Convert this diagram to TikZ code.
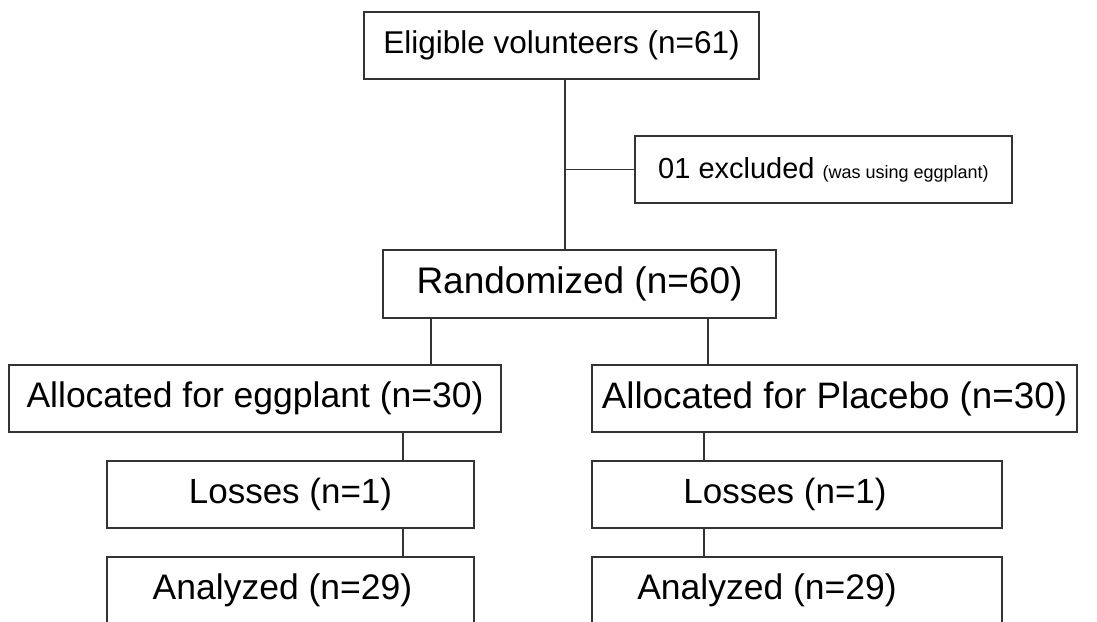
\documentclass[tikz,border=0pt]{standalone}
\usepackage{fontspec}
\setmainfont{Liberation Sans}
\begin{document}
\begin{tikzpicture}[
        x=1pt, y=-1pt,
        box/.style={draw=black!80, line width=1.5pt, inner sep=0pt, minimum height=67pt,
            font=\fontsize{35.5}{40}\selectfont},
        link/.style={draw=black!80, line width=1.5pt}
    ]
    \useasboundingbox (0,0) rectangle (1097,621);
    \clip (0,0) rectangle (1097,621);
    % Nodes
    \node[box, minimum width=395pt, font=\fontsize{31.5}{36}\selectfont] (elig) at (561.5,45.5) {Eligible volunteers (n=61)};
    \node[box, minimum width=377pt] (excl) at (823.5,169.5)
        {\fontsize{29}{34}\selectfont 01 excluded \fontsize{18}{22}\selectfont(was using eggplant)};
    \node[box, minimum width=393pt, minimum height=68pt, font=\fontsize{37}{42}\selectfont] (rand) at (579.5,284) {Randomized (n=60)};
    \node[box, minimum width=492pt] (allocA) at (255,398.5) {Allocated for eggplant (n=30)};
    \node[box, minimum width=485pt, font=\fontsize{36.8}{42}\selectfont] (allocB) at (834.5,398.5) {Allocated for Placebo (n=30)};
    \node[box, minimum width=367pt, font=\fontsize{35}{40}\selectfont] (lossA) at (290.5,494.5) {Losses (n=1)};
    \node[box, minimum width=410pt, font=\fontsize{35}{40}\selectfont] (lossB) at (797,494.5) {Losses (n=1)\hspace*{24pt}};
    \node[box, minimum width=367pt] (anaA) at (290.5,590.5) {Analyzed (n=29)\hspace*{16pt}};
    \node[box, minimum width=410pt] (anaB) at (797,590.5) {Analyzed (n=29)\hspace*{60pt}};
    % Branch points
    \coordinate (trunk) at (565,0);
    \coordinate (splitA) at (431,0);
    \coordinate (splitB) at (708,0);
    \coordinate (armA) at (403,0);
    \coordinate (armB) at (704,0);
    % Edges
    \draw[link] (elig.south -| trunk) -- (rand.north -| trunk);
    \draw[link] (excl.west) -- (excl.west -| trunk);
    \draw[link] (rand.south -| splitA) -- (allocA.north -| splitA);
    \draw[link] (rand.south -| splitB) -- (allocB.north -| splitB);
    \draw[link] (allocA.south -| armA) -- (lossA.north -| armA);
    \draw[link] (lossA.south -| armA) -- (anaA.north -| armA);
    \draw[link] (allocB.south -| armB) -- (lossB.north -| armB);
    \draw[link] (lossB.south -| armB) -- (anaB.north -| armB);
\end{tikzpicture}
\end{document}
